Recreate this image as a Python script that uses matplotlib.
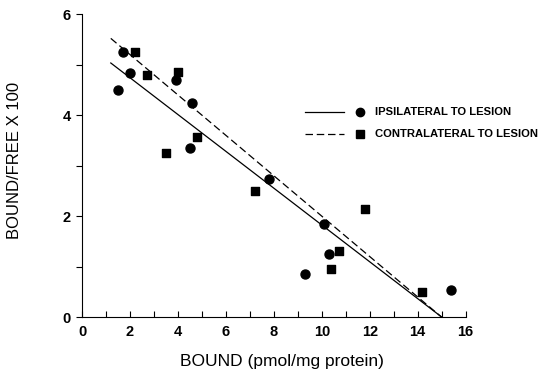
import numpy as np
import matplotlib.pyplot as plt
from matplotlib.lines import Line2D

# Scatchard plot data
ipsi_x = [1.5, 1.7, 2.0, 3.9, 4.5, 4.6, 7.8, 9.3, 10.1, 10.3, 15.4]
ipsi_y = [4.5, 5.25, 4.83, 4.69, 3.35, 4.24, 2.73, 0.85, 1.84, 1.25, 0.53]
contra_x = [2.2, 2.7, 3.5, 4.0, 4.8, 7.2, 10.4, 10.7, 11.8, 14.2]
contra_y = [5.25, 4.79, 3.25, 4.85, 3.56, 2.5, 0.95, 1.31, 2.14, 0.5]

# regression lines: (intercept, slope), drawn from x=1.2 to the x-intercept
ipsi_fit = (5.47, -0.3645)
contra_fit = (6.0, -0.40)
fit_start = 1.2

labels = ["IPSILATERAL TO LESION", "CONTRALATERAL TO LESION"]

plt.rcParams['font.family'] = ['Liberation Sans', 'DejaVu Sans']

fig = plt.figure(figsize=(5.41, 3.78), dpi=100)
ax = fig.add_axes([0.1516, 0.161, 0.7135, 0.8016])

for (b, m), ls in ((ipsi_fit, '-'), (contra_fit, (0, (6, 3)))):
    xs = np.array([fit_start, -b / m])
    ax.plot(xs, b + m * xs, color='black', lw=0.9, ls=ls)

ax.scatter(ipsi_x, ipsi_y, marker='o', s=42, color='black', zorder=3)
ax.scatter(contra_x, contra_y, marker='s', s=40, color='black', zorder=3)

ax.set_xlim(0, 16.1)
ax.set_ylim(0, 6)
ax.set_xticks(np.arange(0, 17, 2))
ax.set_xticks(np.arange(1, 16, 2), minor=True)
ax.set_yticks([0, 2, 4, 6])
ax.set_yticks([1, 3, 5], minor=True)
ax.spines['top'].set_visible(False)
ax.spines['right'].set_visible(False)
ax.spines['bottom'].set_bounds(0, 16)
for s in ('left', 'bottom'):
    ax.spines[s].set_linewidth(0.8)
ax.tick_params(axis='x', which='both', direction='in', length=4, width=0.8,
               labelsize=10.5, pad=6)
ax.tick_params(axis='y', which='both', direction='out', length=4, width=0.8,
               labelsize=10.5, pad=4)
for lab in ax.get_xticklabels() + ax.get_yticklabels():
    lab.set_fontweight('bold')

ax.set_xlabel("BOUND (pmol/mg protein)", fontsize=12.5)
ax.xaxis.set_label_coords((282 - 82) / 386, -(354 - 317) / 303)
ax.set_ylabel("BOUND/FREE X 100", fontsize=12)
ax.yaxis.set_label_coords(-(82 - 22) / 386, (317 - 160) / 303)

# legend drawn in figure coordinates
for i, (lab, ls, mk) in enumerate(zip(labels, ['-', (0, (6, 3))], ['o', 's'])):
    yy = 1 - (112 + 22 * i) / 378
    fig.add_artist(Line2D([305 / 541, 344 / 541], [yy, yy], color='black',
                          lw=0.9, ls=ls))
    fig.add_artist(Line2D([360 / 541], [yy], marker=mk, ms=6, color='black',
                          ls='none'))
    fig.text(375 / 541, yy, lab, fontsize=8.1, fontweight='bold',
             va='center', ha='left')

fig.savefig("out.png", dpi=100)
